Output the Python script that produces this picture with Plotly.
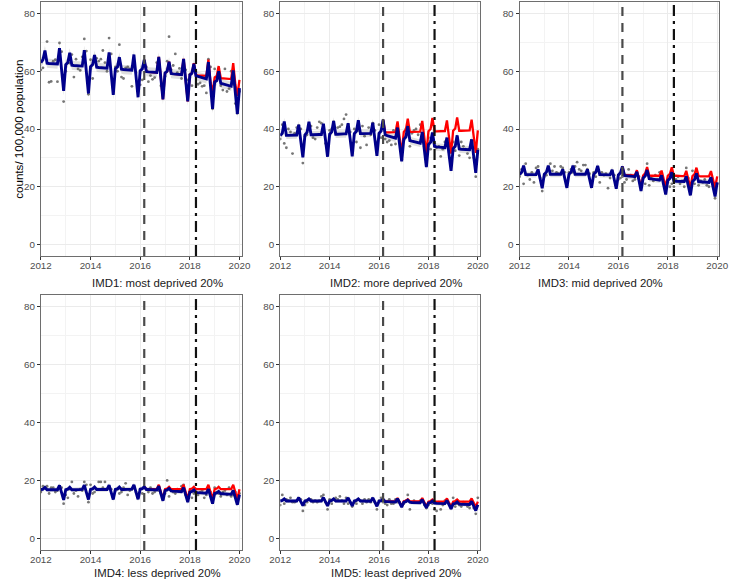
import plotly.graph_objects as go
import pandas as pd

W, H = 738, 580

# ---------------- data ----------------
months = pd.date_range("2012-01-01", "2020-01-01", freq="MS").strftime("%Y-%m-%d").tolist()  # 97 months
red_start_index = 50  # March 2016
red_months = months[red_start_index:]
intervention_1 = "2016-03-01"
intervention_2 = "2018-04-01"

panel_titles = ["IMD1: most deprived 20%", "IMD2: more deprived 20%", "IMD3: mid deprived 20%",
                "IMD4: less deprived 20%", "IMD5: least deprived 20%"]

x_ticks = ["2012-01-01", "2014-01-01", "2016-01-01", "2018-01-01", "2020-01-01"]
x_tick_labels = ["2012", "2014", "2016", "2018", "2020"]
y_ticks = [0, 20, 40, 60, 80]
y_title = "counts/ 100,000 population"

# IMD1
obs_imd1 = [60.5, 61.2, 65.5, 70.3, 56.2, 56.5, 63.5, 64.0, 56.4, 69.8, 66.8, 49.5,
            60.0, 63.0, 62.8, 65.8, 58.0, 64.2, 60.8, 60.3, 65.0, 71.2, 67.0, 52.0,
            64.0, 57.5, 65.2, 64.5, 63.5, 64.2, 67.2, 63.0, 60.0, 71.5, 66.0, 52.5,
            61.5, 60.0, 69.2, 58.0, 57.5, 61.2, 61.5, 60.8, 54.8, 62.5, 59.5, 56.0,
            55.3, 57.0, 62.0, 61.5, 56.4, 58.5, 57.2, 57.8, 63.0, 60.5, 55.0, 52.5,
            58.2, 63.5, 72.0, 60.5, 62.0, 66.0, 59.5, 61.0, 57.5, 61.5, 60.5, 57.0,
            59.0, 55.0, 60.5, 59.5, 55.5, 56.0, 54.8, 55.0, 52.5, 64.2, 61.5, 47.0,
            60.8, 58.2, 61.0, 55.0, 53.5, 60.8, 53.0, 54.0, 60.0, 55.5, 48.8, 45.5,
            53.0]
fit_imd1 = [63.0, 64.0, 67.2, 62.8, 62.7, 62.7, 62.6, 62.6, 62.5, 68.0, 60.5, 53.2,
            62.3, 63.0, 66.4, 62.1, 62.0, 62.0, 61.9, 61.9, 61.8, 67.3, 59.8, 52.3,
            61.6, 62.3, 65.6, 61.4, 61.3, 61.3, 61.2, 61.2, 61.1, 66.5, 59.0, 51.8,
            60.9, 61.5, 64.9, 60.7, 60.6, 60.6, 60.5, 60.5, 60.4, 65.8, 58.3, 51.0,
            60.2, 60.8, 64.0, 59.9, 59.8, 59.8, 59.7, 59.7, 59.6, 65.0, 57.6, 50.3,
            59.4, 60.0, 63.3, 59.2, 59.1, 59.0, 59.0, 58.9, 58.8, 64.3, 56.9, 49.6,
            58.7, 59.3, 62.6, 58.4, 58.2, 58.0, 57.8, 57.6, 57.4, 63.2, 55.0, 47.0,
            56.3, 56.8, 60.0, 55.8, 55.6, 55.4, 55.2, 55.0, 54.8, 60.3, 52.5, 45.2,
            54.2]
cf_imd1 = [64.0, 59.9, 59.8, 59.8, 59.7, 59.7, 59.6, 65.0, 57.6, 50.3,
           59.4, 60.0, 63.3, 59.2, 59.1, 59.0, 59.0, 58.9, 58.8, 64.3, 56.9, 49.6,
           58.8, 59.4, 62.8, 58.7, 58.6, 58.6, 58.5, 58.5, 58.4, 64.0, 56.2, 52.5,
           57.9, 58.4, 61.8, 57.6, 57.5, 57.5, 57.4, 57.4, 57.3, 62.8, 55.5, 51.5,
           57.0]

# IMD2
obs_imd2 = [36.5, 41.5, 35.0, 33.5, 40.0, 39.0, 31.5, 38.5, 40.5, 41.2, 40.0, 28.2,
            37.5, 38.0, 41.5, 41.0, 37.0, 36.5, 40.5, 42.5, 42.0, 40.8, 35.0, 31.0,
            39.5, 40.0, 42.5, 38.5, 40.5, 40.8, 41.5, 43.5, 45.0, 41.5, 39.0, 32.0,
            40.0, 35.5, 39.5, 33.5, 41.0, 37.5, 34.5, 40.5, 38.0, 42.0, 39.5, 35.5,
            41.5, 37.0, 42.5, 36.5, 35.5, 36.0, 34.5, 39.5, 34.8, 37.5, 36.0, 29.5,
            37.0, 40.0, 41.5, 34.0, 38.5, 39.5, 40.0, 38.0, 41.5, 35.5, 34.0, 28.5,
            37.0, 33.0, 36.5, 34.0, 33.5, 34.0, 30.5, 33.0, 35.5, 36.0, 32.0, 28.0,
            35.5, 32.5, 37.0, 30.8, 35.5, 34.0, 33.0, 31.5, 30.0, 35.0, 30.0, 23.5,
            33.0]
fit_imd2 = [37.7, 38.5, 42.6, 37.8, 37.8, 37.8, 37.9, 37.9, 37.9, 41.5, 36.0, 30.2,
            38.0, 38.8, 42.5, 38.0, 38.0, 38.1, 38.1, 38.1, 38.1, 41.8, 36.2, 30.4,
            38.2, 39.0, 42.8, 38.2, 38.2, 38.3, 38.3, 38.3, 38.3, 42.0, 36.4, 30.5,
            38.4, 39.2, 43.0, 38.4, 38.4, 38.4, 38.5, 38.5, 38.5, 42.2, 36.6, 30.7,
            38.5, 39.3, 43.2, 38.0, 37.7, 37.4, 37.2, 37.0, 36.8, 40.5, 34.8, 28.8,
            36.4, 37.2, 41.0, 36.0, 35.8, 35.6, 35.4, 35.3, 35.1, 39.0, 33.2, 26.8,
            34.6, 35.4, 38.8, 34.0, 33.8, 33.7, 33.6, 33.5, 33.5, 37.0, 31.5, 25.5,
            33.2, 34.0, 37.8, 33.1, 33.0, 32.9, 32.9, 32.8, 32.8, 36.4, 30.8, 24.8,
            32.8]
cf_imd2 = [43.2, 38.8, 38.8, 38.8, 38.9, 38.9, 38.9, 42.6, 37.0, 31.2,
           39.0, 39.8, 43.6, 39.0, 39.0, 39.0, 39.1, 39.1, 39.1, 42.8, 37.2, 31.4,
           39.2, 40.0, 43.8, 39.2, 39.2, 39.2, 39.3, 39.3, 39.3, 43.0, 37.4, 31.5,
           39.4, 40.2, 44.0, 39.4, 39.4, 39.4, 39.5, 39.5, 39.5, 43.2, 37.6, 31.7,
           39.5]

# IMD3
obs_imd3 = [23.5, 26.0, 21.0, 28.0, 24.0, 22.5, 25.0, 21.5, 26.5, 27.0, 23.0, 18.5,
            23.5, 24.0, 26.5, 28.0, 25.5, 27.0, 25.0, 24.5, 27.0, 26.5, 25.0, 20.5,
            25.0, 26.0, 25.0, 27.0, 28.5, 26.0, 25.5, 27.5, 27.5, 26.0, 24.5, 21.0,
            25.0, 23.5, 25.5, 21.5, 25.0, 24.0, 24.5, 19.5, 23.0, 25.5, 24.0, 20.5,
            22.5, 23.0, 23.5, 21.5, 22.5, 26.0, 24.0, 22.0, 22.5, 24.5, 23.5, 20.5,
            23.0, 21.0, 28.0, 20.5, 23.0, 22.0, 24.0, 22.5, 25.0, 23.5, 22.0, 20.5,
            21.5, 20.0, 21.0, 20.0, 22.5, 23.5, 21.0, 22.0, 20.0, 26.5, 23.0, 20.0,
            25.5, 21.0, 24.5, 20.5, 22.0, 21.5, 22.5, 20.5, 20.0, 22.0, 20.0, 16.0,
            21.0]
fit_imd3 = [24.2, 25.0, 27.3, 24.2, 24.2, 24.2, 24.2, 24.2, 24.2, 26.0, 23.0, 19.5,
            24.3, 25.0, 27.3, 24.3, 24.3, 24.3, 24.3, 24.3, 24.3, 26.0, 23.0, 19.6,
            24.3, 25.0, 27.3, 24.3, 24.3, 24.3, 24.3, 24.3, 24.3, 26.0, 23.0, 19.6,
            24.3, 25.0, 27.2, 24.2, 24.2, 24.2, 24.2, 24.2, 24.1, 25.9, 22.9, 19.3,
            24.1, 24.8, 27.0, 23.9, 23.8, 23.8, 23.7, 23.6, 23.5, 25.2, 22.2, 18.5,
            23.0, 23.7, 25.8, 22.8, 22.7, 22.6, 22.5, 22.4, 22.3, 24.0, 21.0, 17.3,
            22.2, 22.9, 25.0, 22.0, 21.9, 21.9, 21.8, 21.8, 21.8, 23.6, 20.6, 17.0,
            21.8, 22.5, 24.6, 21.7, 21.7, 21.6, 21.6, 21.6, 21.5, 23.3, 20.3, 16.6,
            21.5]
cf_imd3 = [27.0, 24.0, 24.0, 24.0, 23.9, 23.9, 23.9, 25.7, 22.7, 19.8,
           23.9, 24.6, 26.8, 23.9, 23.8, 23.8, 23.8, 23.8, 23.8, 25.6, 22.6, 19.8,
           23.8, 24.5, 26.7, 23.8, 23.8, 23.7, 23.7, 23.7, 23.7, 25.5, 22.5, 19.7,
           23.7, 24.4, 26.6, 23.7, 23.6, 23.6, 23.6, 23.6, 23.6, 25.4, 22.4, 19.6,
           23.6]

# IMD4
obs_imd4 = [16.0, 18.0, 17.5, 18.0, 15.5, 17.5, 17.5, 16.0, 16.5, 18.0, 17.5, 12.0,
            15.0, 14.0, 17.0, 19.5, 15.5, 16.5, 14.5, 17.0, 16.5, 19.5, 18.5, 12.5,
            18.5, 15.5, 16.0, 17.0, 19.5, 19.5, 17.5, 19.5, 17.0, 17.5, 17.0, 14.0,
            16.5, 17.0, 15.5, 16.0, 17.5, 19.0, 15.0, 16.5, 17.0, 18.0, 16.0, 14.0,
            17.0, 15.5, 17.5, 17.0, 16.0, 17.5, 15.5, 16.0, 17.0, 16.5, 15.5, 13.5,
            15.5, 20.0, 14.5, 16.5, 16.0, 15.5, 17.0, 16.5, 18.0, 18.5, 15.0, 13.0,
            16.0, 14.0, 15.5, 17.0, 15.0, 16.0, 16.5, 14.0, 15.0, 17.0, 16.0, 12.5,
            17.5, 16.0, 15.5, 14.5, 16.0, 16.5, 15.0, 17.5, 14.5, 15.0, 16.0, 13.0,
            15.5]
fit_imd4 = [16.8, 17.0, 17.6, 16.8, 16.8, 16.8, 16.8, 16.8, 16.8, 18.3, 16.0, 13.3,
            16.8, 17.0, 17.6, 16.8, 16.8, 16.8, 16.9, 16.9, 16.9, 18.4, 16.1, 13.4,
            16.9, 17.1, 17.7, 16.9, 16.9, 16.9, 16.9, 16.9, 16.9, 18.4, 16.1, 13.4,
            16.9, 17.1, 17.7, 16.9, 16.9, 16.9, 16.9, 17.0, 17.0, 18.5, 16.2, 13.5,
            17.0, 17.2, 17.8, 16.9, 16.9, 16.8, 16.8, 16.7, 16.7, 18.0, 15.7, 13.0,
            16.5, 16.7, 17.2, 16.4, 16.3, 16.3, 16.2, 16.2, 16.1, 17.5, 15.2, 12.5,
            16.0, 16.2, 16.7, 15.9, 15.8, 15.8, 15.7, 15.7, 15.6, 17.0, 14.7, 12.0,
            15.5, 15.7, 16.2, 15.4, 15.4, 15.3, 15.3, 15.2, 15.2, 16.6, 14.3, 11.6,
            15.1]
cf_imd4 = [17.8, 17.0, 17.0, 17.0, 17.0, 17.0, 17.0, 18.5, 16.2, 13.5,
           17.0, 17.2, 17.8, 17.0, 17.0, 17.0, 17.0, 17.0, 17.0, 18.5, 16.2, 13.5,
           17.0, 17.2, 17.8, 17.0, 17.0, 17.0, 17.0, 17.0, 17.0, 18.5, 16.2, 13.5,
           17.0, 17.2, 17.8, 17.0, 17.0, 17.0, 17.0, 17.0, 17.0, 18.5, 16.2, 13.5,
           17.0]

# IMD5
obs_imd5 = [11.5, 15.0, 12.0, 13.5, 13.0, 14.0, 12.5, 12.5, 13.0, 13.5, 13.5, 9.5,
            11.5, 12.5, 13.5, 13.5, 12.5, 13.0, 12.5, 13.0, 14.5, 15.0, 12.5, 10.0,
            13.5, 12.0, 13.5, 14.0, 13.5, 14.5, 13.0, 12.0, 14.0, 12.0, 12.5, 11.0,
            12.5, 12.0, 13.5, 13.0, 12.0, 13.5, 12.5, 13.5, 12.5, 13.5, 12.5, 10.0,
            13.0, 14.0, 12.5, 12.0, 11.5, 13.5, 12.0, 12.0, 13.5, 12.5, 12.5, 11.5,
            12.0, 13.0, 15.0, 10.0, 12.5, 13.0, 12.5, 12.5, 13.0, 13.5, 11.5, 10.5,
            11.5, 12.5, 12.0, 10.0, 9.5, 12.5, 10.0, 11.5, 13.0, 13.0, 12.0, 10.5,
            14.0, 11.0, 12.0, 11.5, 11.0, 12.5, 12.0, 11.0, 10.5, 12.0, 10.5, 8.5,
            14.0]
fit_imd5 = [12.9, 13.1, 13.6, 12.9, 12.9, 12.9, 12.9, 12.9, 12.9, 14.1, 12.4, 11.3,
            12.9, 13.1, 13.6, 12.9, 12.9, 12.9, 12.9, 12.9, 12.9, 14.1, 12.4, 11.2,
            12.9, 13.1, 13.6, 12.9, 12.9, 12.9, 12.9, 12.9, 12.9, 14.0, 12.4, 11.2,
            12.9, 13.1, 13.6, 12.9, 12.9, 12.9, 12.8, 12.8, 12.8, 14.0, 12.3, 11.1,
            12.8, 13.0, 13.5, 12.7, 12.7, 12.7, 12.6, 12.6, 12.6, 13.7, 12.0, 10.8,
            12.5, 12.7, 13.2, 12.5, 12.4, 12.4, 12.4, 12.3, 12.3, 13.4, 11.7, 10.5,
            12.2, 12.4, 12.9, 12.2, 12.1, 12.1, 12.1, 12.0, 12.0, 13.1, 11.4, 10.2,
            11.9, 12.1, 12.6, 11.9, 11.8, 11.8, 11.8, 11.7, 11.7, 12.8, 11.1, 9.6,
            11.6]
cf_imd5 = [13.5, 12.8, 12.8, 12.8, 12.8, 12.8, 12.8, 13.9, 12.2, 11.0,
           12.8, 13.0, 13.5, 12.8, 12.8, 12.8, 12.8, 12.8, 12.8, 13.9, 12.2, 11.0,
           12.7, 12.9, 13.4, 12.7, 12.7, 12.7, 12.7, 12.7, 12.7, 13.8, 12.1, 10.9,
           12.7, 12.9, 13.4, 12.7, 12.7, 12.7, 12.7, 12.7, 12.7, 13.8, 12.1, 10.9,
           12.7]

# half-width of the fitted-model confidence band per panel
ci_halfwidth = [1.6, 1.3, 1.0, 0.8, 0.7]

observed = [obs_imd1, obs_imd2, obs_imd3, obs_imd4, obs_imd5]
fitted = [fit_imd1, fit_imd2, fit_imd3, fit_imd4, fit_imd5]
counterfactual = [cf_imd1, cf_imd2, cf_imd3, cf_imd4, cf_imd5]

# ---------------- layout geometry (pixels) ----------------
col_px = [(30.7, 237.0), (276.7, 482.0), (522.7, 728.0)]
row_px = [(2.0, 256.0), (295.0, 550.0)]
strip_px = [(150.5, 283.0), (396.0, 283.0), (605.5, 283.0), (151.0, 573.0), (396.0, 573.0)]

FONT = "Liberation Sans, Arial, Helvetica, sans-serif"

def px_x(v):
    return v / W

def px_y(v):
    return 1 - v / H

fig = go.Figure()
layout_axes = {}
shapes = []
annotations = []

for i in range(5):
    r, c = divmod(i, 3)
    n = i + 1
    xa = "x" if n == 1 else f"x{n}"
    ya = "y" if n == 1 else f"y{n}"
    xkey = "xaxis" if n == 1 else f"xaxis{n}"
    ykey = "yaxis" if n == 1 else f"yaxis{n}"

    hw = ci_halfwidth[i]
    lower = [v - hw for v in fitted[i]]
    upper = [v + hw for v in fitted[i]]

    fig.add_trace(go.Scatter(x=months, y=lower, mode="lines", line=dict(width=0),
                             hoverinfo="skip", showlegend=False, xaxis=xa, yaxis=ya))
    fig.add_trace(go.Scatter(x=months, y=upper, mode="lines", line=dict(width=0),
                             fill="tonexty", fillcolor="rgba(150,150,150,0.30)",
                             hoverinfo="skip", showlegend=False, xaxis=xa, yaxis=ya))
    fig.add_trace(go.Scatter(x=months, y=observed[i], mode="markers",
                             marker=dict(size=2.8, color="rgba(85,85,85,0.8)"),
                             showlegend=False, xaxis=xa, yaxis=ya))
    fig.add_trace(go.Scatter(x=red_months, y=counterfactual[i], mode="lines",
                             line=dict(color="#FF0000", width=2.3),
                             showlegend=False, xaxis=xa, yaxis=ya))
    fig.add_trace(go.Scatter(x=months, y=fitted[i], mode="lines",
                             line=dict(color="#00008B", width=2.9),
                             showlegend=False, xaxis=xa, yaxis=ya))

    x0, x1 = col_px[c]
    y0, y1 = row_px[r]
    layout_axes[xkey] = dict(
        domain=[px_x(x0), px_x(x1)], anchor=ya, type="date",
        range=["2012-01-01", "2020-02-01"],
        tickvals=x_ticks, ticktext=x_tick_labels,
        showgrid=True, gridcolor="#EBEBEB", gridwidth=1.1,
        minor=dict(tickvals=["2013-01-01", "2015-01-01", "2017-01-01", "2019-01-01"],
                   showgrid=True, gridcolor="#F3F3F3", gridwidth=0.6, ticks=""),
        ticks="outside", ticklen=3, tickcolor="#333333", tickwidth=1,
        ticklabelstandoff=-3,
        tickfont=dict(family=FONT, size=9.8, color="#4D4D4D"),
        showline=True, mirror=True, linecolor="#6E6E6E", linewidth=1,
        zeroline=False, fixedrange=True,
    )
    layout_axes[ykey] = dict(
        domain=[px_y(y1), px_y(y0)], anchor=xa,
        range=[-4, 84], tickvals=y_ticks,
        showgrid=True, gridcolor="#EBEBEB", gridwidth=1.1,
        minor=dict(tickvals=[10, 30, 50, 70], showgrid=True, gridcolor="#F3F3F3",
                   gridwidth=0.6, ticks=""),
        ticks="outside", ticklen=3, tickcolor="#333333", tickwidth=1,
        tickfont=dict(family=FONT, size=9.8, color="#4D4D4D"),
        showline=True, mirror=True, linecolor="#6E6E6E", linewidth=1,
        zeroline=False, fixedrange=True,
    )

    shapes.append(dict(type="line", xref=xa, yref=f"{ya} domain", x0=intervention_1, x1=intervention_1,
                       y0=0, y1=1, line=dict(color="#4A4A4A", width=2.2, dash="9px,7px"), layer="above"))
    shapes.append(dict(type="line", xref=xa, yref=f"{ya} domain", x0=intervention_2, x1=intervention_2,
                       y0=0, y1=1, line=dict(color="#111111", width=2.2, dash="11px,5px,3px,5px"), layer="above"))

    sx, sy = strip_px[i]
    annotations.append(dict(text=panel_titles[i], xref="paper", yref="paper",
                            x=px_x(sx), y=px_y(sy), xanchor="center", yanchor="middle",
                            showarrow=False, font=dict(family=FONT, size=11.4, color="#1A1A1A")))

annotations.append(dict(text=y_title, xref="paper", yref="paper", x=px_x(8), y=px_y(129),
                        xanchor="center", yanchor="middle", textangle=-90, showarrow=False,
                        font=dict(family=FONT, size=11.6, color="#000000")))

fig.update_layout(
    width=W, height=H, margin=dict(l=0, r=0, t=0, b=0),
    paper_bgcolor="white", plot_bgcolor="white",
    showlegend=False, shapes=shapes, annotations=annotations,
    **layout_axes,
)

fig.write_html("out.html", config={"displayModeBar": False},
               post_script="document.body.style.margin='0';document.body.style.padding='0';")
